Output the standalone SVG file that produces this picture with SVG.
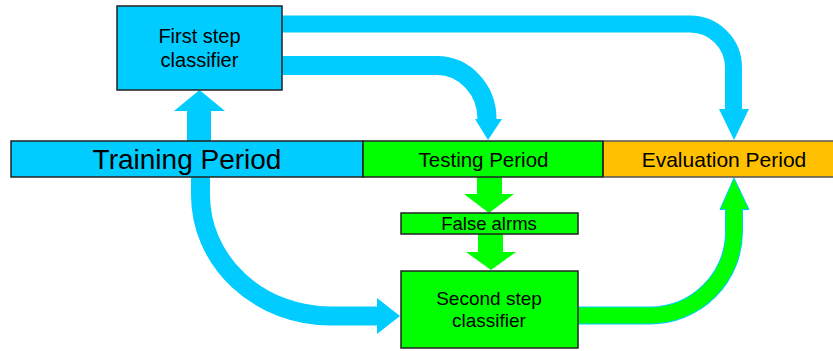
<svg xmlns="http://www.w3.org/2000/svg" width="833" height="351" viewBox="0 0 833 351">
<style>
.lbl{font-family:"Liberation Sans",Arial,sans-serif;fill:#000;text-anchor:middle}
.box{stroke:#222;stroke-width:1.5}
.blue{fill:#00CCFF}
.green{fill:#00FF00}
.bs{fill:none;stroke:#00CCFF;stroke-linecap:butt}
.gs{fill:none;stroke:#00FF00;stroke-linecap:butt}
</style>
<rect width="833" height="351" fill="#fff"/>
<g id="connectors">
  <!-- training -> first step -->
  <rect class="blue" x="187" y="110" width="24" height="32"/>
  <polygon class="blue" points="174,111 225,111 199.5,90"/>
  <!-- first step -> evaluation -->
  <path class="bs" stroke-width="17" d="M282,24 H690 A43.5,43.5 0 0 1 733.5,67.5 V110"/>
  <polygon class="blue" points="719,109 749,109 734,140"/>
  <!-- first step -> testing -->
  <path class="bs" stroke-width="19" d="M282,65.5 H437 A50,53.5 0 0 1 487,119 V120"/>
  <polygon class="blue" points="475,119 502,119 488,140"/>
  <!-- training -> second step -->
  <path class="bs" stroke-width="19" d="M200.5,176 V195 A130,121 0 0 0 330.5,316 H378"/>
  <polygon class="blue" points="377,298 377,334 400,316"/>
  <!-- testing -> false alarms -->
  <rect class="green" x="477" y="176" width="25" height="19"/>
  <polygon class="green" points="464,194 514,194 489,213"/>
  <!-- false alarms -> second step -->
  <rect class="green" x="478" y="233" width="25" height="20"/>
  <polygon class="green" points="466,252 516,252 491,270"/>
  <!-- second step -> evaluation -->
  <path class="bs" stroke-width="18" d="M578,315.5 H650 A84,84 0 0 0 734,231.5 V209.5"/>
  <polygon points="720,209.5 749,209.5 734,178" fill="#00FF00" stroke="#00CCFF" stroke-width="1"/>
  <path class="gs" stroke-width="16" d="M577,315.5 H650 A84,84 0 0 0 734,231.5 V205"/>
</g>
<g id="first-step">
  <rect class="box blue" x="117" y="6" width="165" height="84"/>
  <text class="lbl" x="199.5" y="42.5" font-size="20">First step</text>
  <text class="lbl" x="199.5" y="66.5" font-size="20">classifier</text>
</g>
<g id="training">
  <rect class="box blue" x="11" y="141" width="352" height="36"/>
  <text class="lbl" x="187" y="169" font-size="28">Training Period</text>
</g>
<g id="testing">
  <rect class="box green" x="363" y="141" width="240" height="36"/>
  <text class="lbl" x="483.5" y="166.5" font-size="20.5">Testing Period</text>
</g>
<g id="evaluation">
  <rect x="603" y="141" width="240" height="36" fill="#FFC000" stroke="#555" stroke-width="1.5"/>
  <line x1="603" y1="141" x2="603" y2="177" stroke="#222" stroke-width="1.5"/>
  <text class="lbl" x="724" y="166.5" font-size="21">Evaluation Period</text>
</g>
<g id="false-alarms">
  <rect class="box green" x="401" y="213" width="177" height="21"/>
  <text class="lbl" x="489" y="230" font-size="18.5">False alrms</text>
</g>
<g id="second-step">
  <rect class="box green" x="401" y="271" width="177" height="77"/>
  <text class="lbl" x="489" y="305" font-size="19">Second step</text>
  <text class="lbl" x="489" y="327" font-size="19">classifier</text>
</g>
</svg>
